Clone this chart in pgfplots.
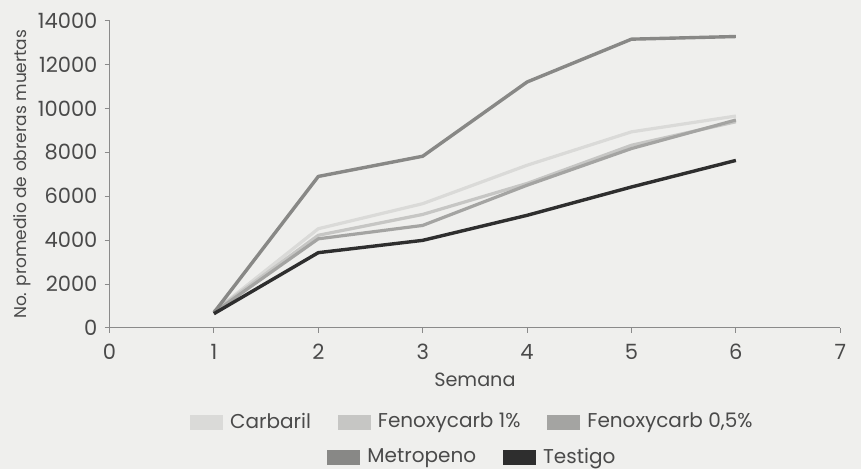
\documentclass[border=0pt]{standalone}
\usepackage{pgfplots}
\pgfplotsset{compat=1.18}
\usepackage{fontspec}
\setmainfont{Poppins}
\definecolor{bg}{HTML}{EFEFED}
\definecolor{txt}{HTML}{4A4A4A}
\definecolor{axg}{HTML}{8A8A8A}
\definecolor{cCar}{HTML}{DADAD8}
\definecolor{cF1}{HTML}{C6C6C4}
\definecolor{cF05}{HTML}{A4A4A2}
\definecolor{cMet}{HTML}{888886}
\definecolor{cTes}{HTML}{2E2E2E}
\pgfplotsset{
  sw/.style={legend image code/.code={\fill[##1,draw=none] (0pt,-3.75pt) rectangle (16.5pt,3.75pt);}},
  lgd/.style={draw=none, fill=none, anchor=center,
    font=\fontsize{10}{12}\selectfont, text=txt,
    nodes={inner xsep=3.5pt},
    /tikz/every even column/.append style={column sep=10pt}},
}
\begin{document}
\begin{tikzpicture}
\fill[bg] (0,0) rectangle (430.5pt,234.5pt);
\begin{axis}[
  at={(54.75pt,70.5pt)}, anchor=south west,
  width=365.4pt, height=153.75pt, scale only axis,
  xmin=0, xmax=7, ymin=0, ymax=14000,
  axis lines*=left,
  axis line style={axg, line width=0.5pt},
  xtick={0,1,...,7}, ytick={0,2000,...,14000},
  tick align=outside, major tick length=2.5pt,
  tick style={axg, line width=0.5pt},
  scaled y ticks=false,
  /pgf/number format/assume math mode=true,
  /pgf/number format/1000 sep={},
  tick label style={font=\fontsize{10.5}{12}\selectfont, text=txt},
  xticklabel style={yshift=-2pt},
  xlabel style={font=\fontsize{9.6}{11}\selectfont, text=txt, at={(axis description cs:0.5,-0.17)}, anchor=center},
  ylabel style={font=\fontsize{8.5}{11}\selectfont, text=txt, at={(axis description cs:-0.119,0.5)}, anchor=center},
  xlabel={Semana},
  ylabel={No. promedio de obreras muertas},
  legend style={lgd, at={(axis description cs:0.5,-0.306)}},
  legend columns=3,
  legend cell align=left,
  every axis plot/.append style={line width=1.6pt, line join=round},
  sw,
]
\addplot[cCar] coordinates {(1,750)(2,4520)(3,5660)(4,7410)(5,8930)(6,9650)};
\addlegendentry{Carbaril}
\addplot[cF1] coordinates {(1,750)(2,4220)(3,5170)(4,6580)(5,8320)(6,9390)};
\addlegendentry{Fenoxycarb 1\%}
\addplot[cF05] coordinates {(1,700)(2,4060)(3,4670)(4,6500)(5,8170)(6,9470)};
\addlegendentry{Fenoxycarb 0,5\%}
\addplot[cMet, forget plot, line width=1.7pt] coordinates {(1,700)(2,6900)(3,7820)(4,11200)(5,13150)(6,13270)};
\addplot[cTes, forget plot, line width=1.7pt] coordinates {(1,650)(2,3430)(3,3990)(4,5130)(5,6420)(6,7630)};
\end{axis}
\begin{axis}[
  at={(54.75pt,70.5pt)}, anchor=south west,
  width=365.4pt, height=153.75pt, scale only axis,
  xmin=0, xmax=7, ymin=0, ymax=14000,
  hide axis,
  legend style={lgd, at={(axis description cs:0.5,-0.42)}},
  legend columns=2,
  sw,
]
\addlegendimage{cMet}
\addlegendentry{Metropeno}
\addlegendimage{cTes}
\addlegendentry{Testigo}
\end{axis}
\pgfresetboundingbox
\path (0,0) rectangle (430.5pt,234.5pt);
\end{tikzpicture}
\end{document}
